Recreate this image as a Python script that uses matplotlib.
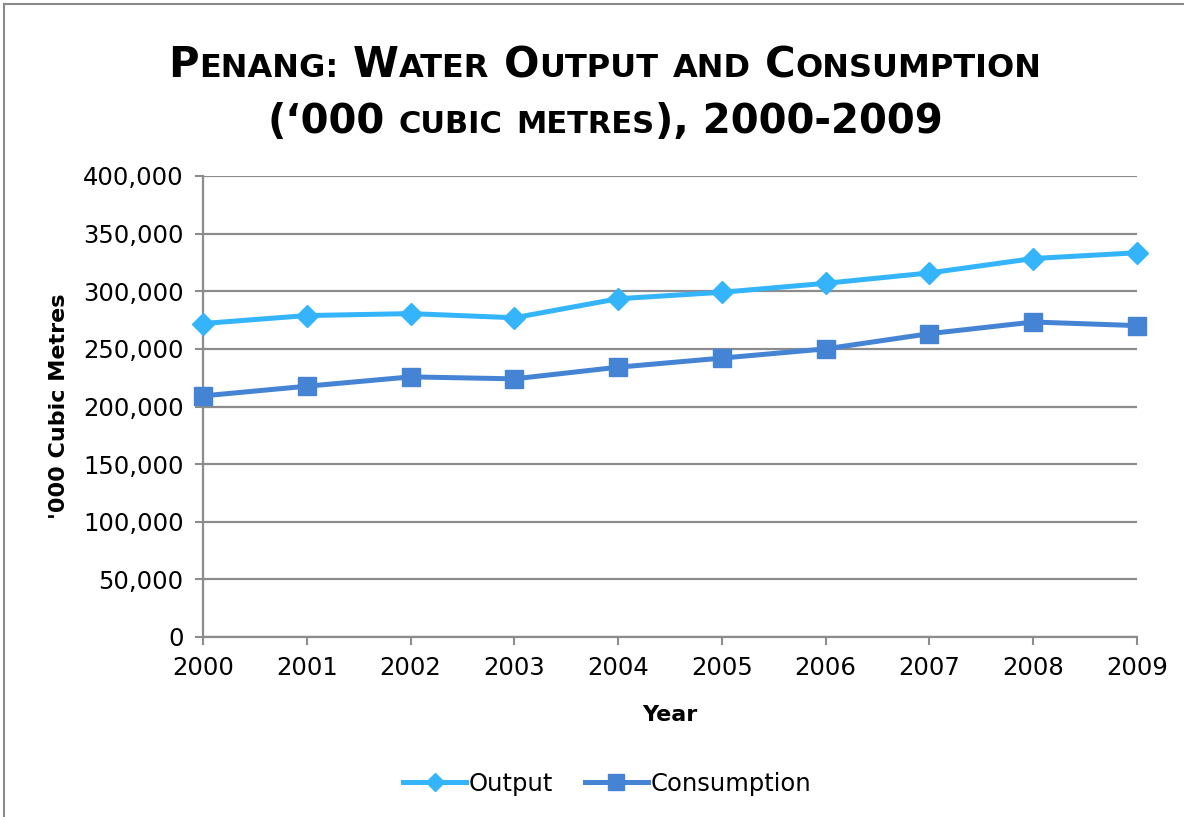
import matplotlib
matplotlib.use("Agg")
import matplotlib.pyplot as plt
from matplotlib.ticker import FuncFormatter
from matplotlib.lines import Line2D

years = [2000, 2001, 2002, 2003, 2004, 2005, 2006, 2007, 2008, 2009]
output = [272000, 278900, 280600, 277000, 293500, 299100, 306900, 315900, 328400, 333400]
consumption = [209200, 217600, 225700, 224000, 234100, 242000, 250000, 263200, 273300, 270200]

c_out = '#33b4fb'
c_con = '#4584d4'
grid_c = '#8c8c8c'
FONT = 'DejaVu Sans'

plt.rcParams['font.family'] = FONT

fig = plt.figure(figsize=(11.84, 8.17), dpi=100)
ax = fig.add_axes([203/1184, 1-637/817, (1137-203)/1184, (637-176)/817])

ax.plot(years, output, color=c_out, lw=3.6, marker='D', ms=11, label='Output', clip_on=False, zorder=4)
ax.plot(years, consumption, color=c_con, lw=3.6, marker='s', ms=13, label='Consumption', clip_on=False, zorder=4)

ax.set_xlim(2000, 2009)
ax.set_ylim(0, 400000)
ax.set_xticks(years)
ax.set_yticks(range(0, 400001, 50000))
ax.yaxis.set_major_formatter(FuncFormatter(lambda v, p: f'{int(v):,}'))
ax.grid(axis='y', color=grid_c, lw=1.6)
ax.set_axisbelow(True)
for s in ['top', 'right']:
    ax.spines[s].set_visible(False)
for s in ['left', 'bottom']:
    ax.spines[s].set_color(grid_c)
    ax.spines[s].set_linewidth(1.6)
ax.tick_params(axis='both', direction='out', length=6, width=1.5, color=grid_c, labelsize=17.5, pad=8)
ax.set_ylabel("'000 Cubic Metres", fontsize=16, fontweight='bold', labelpad=10)
ax.set_xlabel('Year', fontsize=16, fontweight='bold', labelpad=18)

fig.legend(handles=ax.get_lines(), loc='center', bbox_to_anchor=(607/1184, 1-784/817), ncol=2,
           frameon=False, fontsize=17.5, handlelength=2.6, columnspacing=1.3, handletextpad=0.1,
           markerscale=0.85)

# outer chart border (only top/left visible in reference)
x0, y0 = 4/1184, 1-4/817
fig.add_artist(Line2D([x0, x0], [0, y0], color='#8a8a8a', lw=1.5))
fig.add_artist(Line2D([x0, 1], [y0, y0], color='#8a8a8a', lw=1.5))

# small-caps title
renderer = fig.canvas.get_renderer()

def width_of(s, size):
    t = fig.text(0, 0, s, fontsize=size, fontweight='bold')
    w = t.get_window_extent(renderer).width
    t.remove()
    return w

def smallcaps_line(pieces, y, big, small):
    # pieces: list of (text, is_big)
    items = []
    for txt, isbig in pieces:
        size = big if isbig else small
        s = txt if isbig else txt.upper()
        items.append((s, size))
    widths = []
    for s, size in items:
        if s == ' ':
            widths.append(width_of('x x', size) - width_of('xx', size))
        else:
            widths.append(width_of(s, size))
    total = sum(widths)
    x = 605 - total / 2
    for (s, size), w in zip(items, widths):
        if s != ' ':
            fig.text(x / 1184, y, s, fontsize=size, fontweight='bold', va='baseline', ha='left')
        x += w

line1 = [('P', True), ('enang:', False), (' ', True), ('W', True), ('ater', False), (' ', True),
         ('O', True), ('utput', False), (' ', True), ('and', False), (' ', True),
         ('C', True), ('onsumption', False)]
line2 = [('(\u2018000', True), (' ', True), ('cubic', False), (' ', True), ('metres', False),
         ('), 2000-2009', True)]
smallcaps_line(line1, 1 - 77/817, 30, 23)
smallcaps_line(line2, 1 - 133/817, 29, 22)

fig.savefig('out.png', dpi=100)
